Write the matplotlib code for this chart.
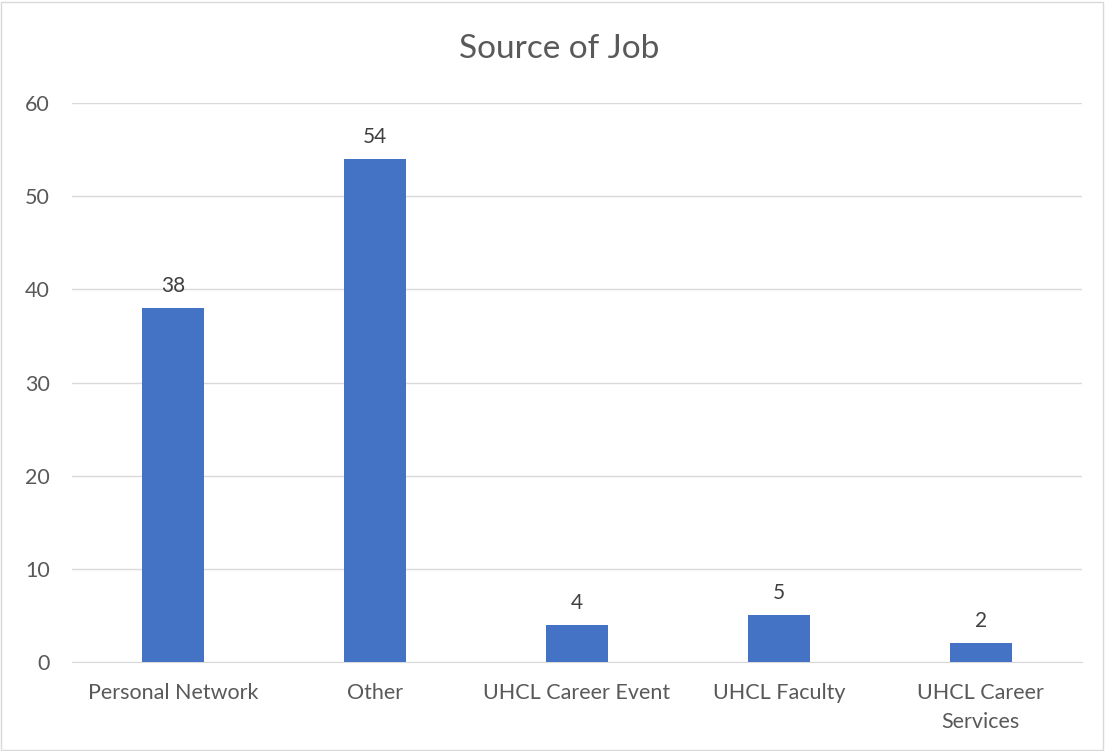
import matplotlib.pyplot as plt
from matplotlib.patches import Rectangle

plt.rcParams['font.family'] = ['Lato', 'DejaVu Sans']

categories = ['Personal Network', 'Other', 'UHCL Career Event', 'UHCL Faculty', 'UHCL Career\nServices']
counts = [38, 54, 4, 5, 2]
yticks = [0, 10, 20, 30, 40, 50, 60]

txt = '#595959'
fig = plt.figure(figsize=(11.05, 7.51), dpi=100)
ax = fig.add_axes([0.0652, 0.1185, 0.9138, 0.7443])

x = range(len(categories))
bars = ax.bar(x, counts, width=0.31, color='#4472C4', zorder=3)
for xi, v in zip(x, counts):
    ax.text(xi, v + 1.3, str(v), ha='center', va='bottom', fontsize=15, color='#404040')

ax.set_xlim(-0.5, len(categories) - 0.5)
ax.set_ylim(0, 60)
ax.set_yticks(yticks)
ax.set_xticks(list(x))
ax.set_xticklabels(categories, fontsize=15.5, color=txt, linespacing=1.6)
ax.tick_params(axis='y', labelsize=15.5, labelcolor=txt, length=0, pad=16)
ax.tick_params(axis='x', length=0, pad=15)
ax.yaxis.grid(True, color='#d9d9d9', linewidth=1, zorder=0)
for s in ['top', 'right', 'left']:
    ax.spines[s].set_visible(False)
ax.spines['bottom'].set_color('#d9d9d9')

fig.text(0.506, 0.935, 'Source of Job', ha='center', va='center', fontsize=24, color=txt)
fig.patches.append(Rectangle((0.001, 0.001), 0.997, 0.997, transform=fig.transFigure,
                             fill=False, edgecolor='#d9d9d9', linewidth=1))

fig.savefig('out.png', dpi=100)
